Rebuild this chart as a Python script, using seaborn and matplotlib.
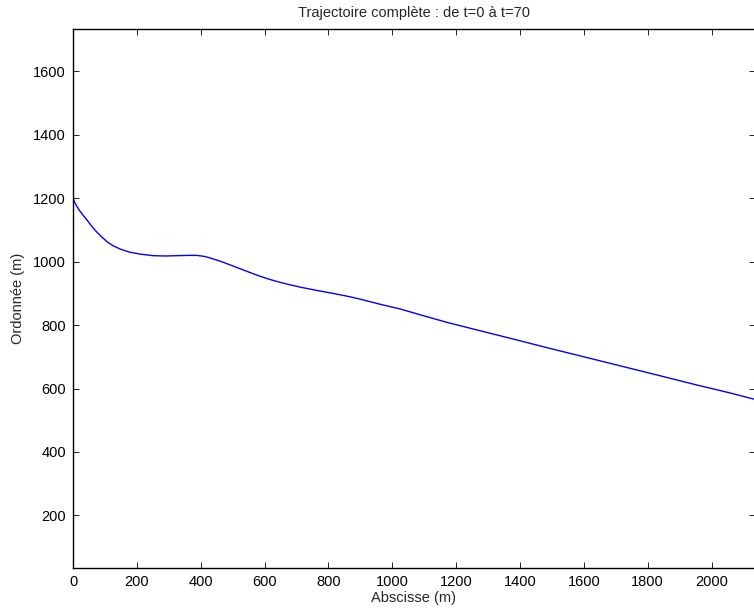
import pandas as pd
import matplotlib
matplotlib.use("Agg")
import matplotlib.pyplot as plt
import seaborn as sns

# Trajectory points (x, y in metres)
abscisse = [0, 5, 10, 20, 32, 45, 60, 74, 90, 108, 126, 150, 178, 210, 251,
            290, 325, 360, 387, 410, 429, 460, 492, 523, 554, 586, 620, 648,
            680, 711, 760, 815, 860, 899, 961, 1024, 1100, 1170, 1280, 1379,
            1480, 1588, 1700, 1828, 1950, 2050, 2131, 2200]
ordonnee = [1200, 1188, 1178, 1162, 1146, 1130, 1110, 1094, 1078, 1062, 1050,
            1039, 1030, 1024, 1019, 1018, 1019, 1020, 1020, 1017, 1012, 1002,
            990, 978, 966, 954, 943, 935, 927, 920, 910, 900, 891, 882, 866,
            851, 829, 809, 781, 756, 730, 703, 675, 643, 612, 588, 567, 550]

traj = pd.DataFrame({"x": abscisse, "y": ordonnee})

sns.set_theme(style="ticks")
plt.rcParams["font.family"] = ["Liberation Sans", "DejaVu Sans"]
plt.rcParams["font.size"] = 10.5

fig = plt.figure(figsize=(7.54, 6.13), dpi=100)
ax = fig.add_axes([73 / 754, 1 - 568.3 / 613, 681.7 / 754, 539 / 613])

sns.lineplot(data=traj, x="x", y="y", sort=False, color="#0000ff",
             linewidth=1.0, ax=ax)

ax.set_xlim(0, 2135)
ax.set_ylim(33, 1733)
ax.set_xticks(range(0, 2001, 200))
ax.set_yticks(range(200, 1601, 200))
ax.tick_params(direction="in", length=4, width=0.6, color="black",
               top=True, right=True, labelsize=10.5, pad=5, labelcolor="black")
for s in ax.spines.values():
    s.set_visible(True)
    s.set_color("black")
    s.set_linewidth(1.0)

ax.set_title("Trajectoire complète : de t=0 à t=70", fontsize=10.5, pad=9)
ax.set_xlabel("Abscisse (m)", fontsize=10.5, labelpad=1)
ax.set_ylabel("Ordonnée (m)", fontsize=10.5, labelpad=6)

fig.savefig("out.png", dpi=100)
